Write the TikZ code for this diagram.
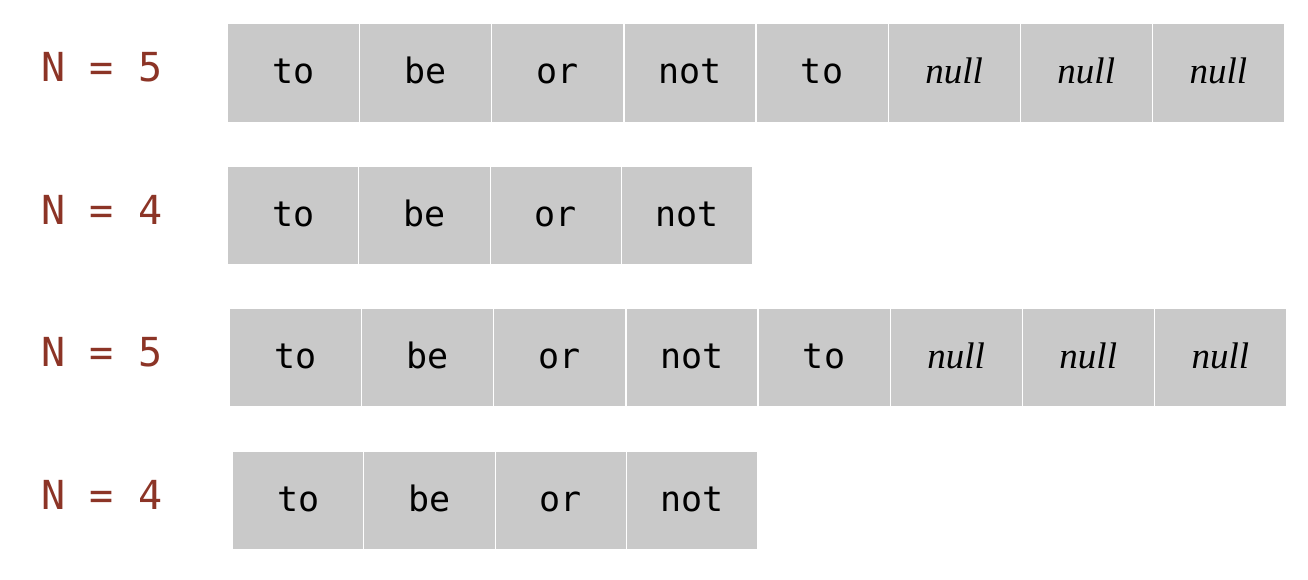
\documentclass[tikz,border=0pt]{standalone}
\usepackage{fontspec}
\setmainfont{Liberation Serif}
\setmonofont{DejaVu Sans Mono}
\definecolor{labelred}{RGB}{140,52,38}
\definecolor{cellgray}{RGB}{201,201,201}
\tikzset{
  cell/.style={draw=white, line width=1.2pt, fill=cellgray, minimum height=100pt, inner sep=0pt, anchor=west, text height=28pt, text depth=6pt, font=\fontsize{35}{40}\selectfont\ttfamily, text=black},
  nullcell/.style={cell, font=\fontsize{37}{40}\selectfont\itshape},
  nlabel/.style={font=\fontsize{40}{44}\selectfont\ttfamily, text=labelred, inner sep=0pt}
}
\begin{document}
\begin{tikzpicture}[x=1pt,y=-1pt]
\useasboundingbox (0,0) rectangle (1308,580);
% row 1
\node[nlabel] (l1) at (102,67) {N = 5};
\foreach \w [count=\i] in {to,be,or,not,to} {
  \node[cell, minimum width=132.1pt] (a\i) at ({227+(\i-1)*132.1},73) {\w};
}
\foreach \i in {6,7,8} {
  \node[nullcell, minimum width=132.1pt] (a\i) at ({227+(\i-1)*132.1},73) {null};
}
% row 2
\node[nlabel] (l2) at (102,210) {N = 4};
\foreach \w [count=\i] in {to,be,or,not} {
  \node[cell, minimum width=131.25pt, minimum height=99pt] (b\i) at ({227+(\i-1)*131.25},215.5) {\w};
}
% row 3
\node[nlabel] (l3) at (102,352) {N = 5};
\foreach \w [count=\i] in {to,be,or,not,to} {
  \node[cell, minimum width=132.1pt, minimum height=99pt] (c\i) at ({229+(\i-1)*132.1},357.5) {\w};
}
\foreach \i in {6,7,8} {
  \node[nullcell, minimum width=132.1pt, minimum height=99pt] (c\i) at ({229+(\i-1)*132.1},357.5) {null};
}
% row 4
\node[nlabel] (l4) at (102,495) {N = 4};
\foreach \w [count=\i] in {to,be,or,not} {
  \node[cell, minimum width=131.25pt, minimum height=99pt] (d\i) at ({232+(\i-1)*131.25},500.5) {\w};
}
\end{tikzpicture}
\end{document}
